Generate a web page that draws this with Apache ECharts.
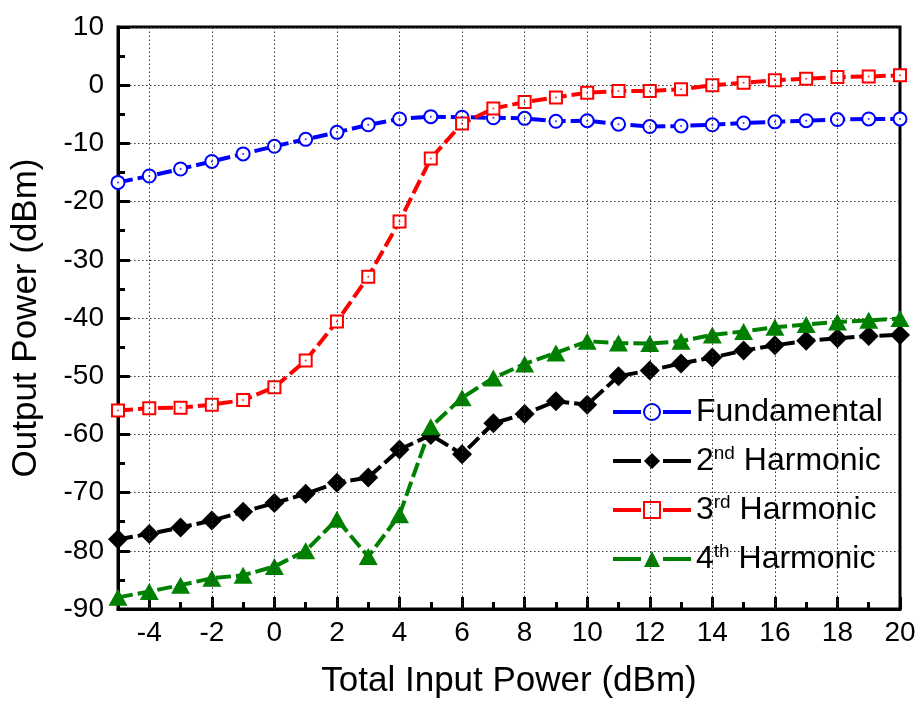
<!DOCTYPE html>
<html>
<head>
<meta charset="utf-8">
<script src="https://cdn.jsdelivr.net/npm/echarts@6/dist/echarts.min.js"></script>
<style>html,body{margin:0;padding:0;background:#fff}#chart{width:920px;height:704px}</style>
</head>
<body>
<div id="chart"></div>
<script>
const inputPower = [-5,-4,-3,-2,-1,0,1,2,3,4,5,6,7,8,9,10,11,12,13,14,15,16,17,18,19,20];
const fundamental = [-16.7,-15.6,-14.4,-13.1,-11.8,-10.5,-9.3,-8.1,-6.8,-5.8,-5.4,-5.5,-5.6,-5.7,-6.2,-6.1,-6.7,-7.1,-7.0,-6.8,-6.5,-6.3,-6.1,-5.9,-5.8,-5.8];
const harmonic2 = [-78.0,-77.1,-76.0,-74.8,-73.3,-71.8,-70.2,-68.3,-67.4,-62.6,-60.1,-63.4,-58.1,-56.5,-54.3,-54.9,-50.0,-49.0,-47.8,-46.8,-45.6,-44.7,-43.9,-43.5,-43.1,-42.9];
const harmonic3 = [-55.9,-55.5,-55.4,-54.9,-54.1,-51.9,-47.3,-40.6,-32.9,-23.4,-12.6,-6.6,-4.0,-2.9,-2.1,-1.3,-1.0,-1.0,-0.7,0.0,0.4,0.85,1.1,1.4,1.5,1.7];
const harmonic4 = [-88.0,-87.0,-85.9,-84.7,-84.2,-82.7,-80.0,-74.6,-81.0,-73.8,-58.7,-53.7,-50.3,-47.9,-46.0,-44.0,-44.3,-44.4,-44.0,-42.9,-42.3,-41.6,-41.1,-40.7,-40.4,-40.1];
const xMajorTicks = [-4,-2,0,2,4,6,8,10,12,14,16,18,20];
const xMinorTicks = [-5,-3,-1,1,3,5,7,9,11,13,15,17,19];
const xGridLines = [-4,-2,0,2,4,6,8,10,12,14,16,18];
const seriesNames = ['Fundamental','2nd Harmonic','3rd Harmonic','4th Harmonic'];
const legendLabels = ['Fundamental','2{sup|nd} Harmonic','3{sup|rd} Harmonic','4{sup|th} Harmonic'];

const FONT = '"Liberation Sans", Arial, sans-serif';
function pairs(ys){ return inputPower.map((x,i)=>[x, ys[i]]); }

const chart = echarts.init(document.getElementById('chart'), null, {renderer:'canvas'});
const dash = [15, 5];
const gridDot = {color:'#333', width:1, type:[1.5,2.5]};
const option = {
  animation: false,
  backgroundColor: '#fff',
  grid: {left:118, right:20, top:27, bottom:94, show:true, borderColor:'#000', borderWidth:3, backgroundColor:'transparent'},
  legend: {
    orient:'vertical', left:606, top:390, itemWidth:78, itemHeight:20, itemGap:15,
    data: seriesNames,
    lineStyle: {width:4, type:[28,22]},
    formatter: function(name){ return legendLabels[seriesNames.indexOf(name)]; },
    textStyle: {fontFamily:FONT, fontSize:32, color:'#000', lineHeight:34,
      rich: {sup: {fontFamily:FONT, fontSize:19, lineHeight:34, verticalAlign:'top', padding:[0,0,14,0]}}}
  },
  xAxis: [{
    type:'value', min:-5, max:20, position:'bottom',
    name:'Total Input Power (dBm)', nameLocation:'middle', nameGap:55,
    nameTextStyle:{fontFamily:FONT, fontSize:35, color:'#000'},
    axisLine:{show:true, onZero:false, lineStyle:{color:'#000', width:3}},
    axisTick:{show:true, inside:true, length:12, customValues:xMajorTicks, lineStyle:{color:'#000', width:3}},
    axisLabel:{show:true, customValues:xMajorTicks, fontFamily:FONT, fontSize:28, color:'#000', margin:10},
    splitLine:{show:false}
  },{
    type:'value', min:-5, max:20, position:'bottom',
    axisLine:{show:false, onZero:false},
    axisTick:{show:true, inside:true, length:7, customValues:xMinorTicks, lineStyle:{color:'#000', width:3}},
    axisLabel:{show:false},
    splitLine:{show:false}
  }],
  yAxis: {
    type:'value', min:-90, max:10, interval:10,
    name:'Output Power (dBm)', nameLocation:'middle', nameGap:74,
    nameTextStyle:{fontFamily:FONT, fontSize:35, color:'#000'},
    axisLine:{show:true, onZero:false, lineStyle:{color:'#000', width:3}},
    axisTick:{show:true, inside:true, length:12, lineStyle:{color:'#000', width:3}},
    minorTick:{show:true, splitNumber:2, length:7, lineStyle:{color:'#000', width:3}},
    axisLabel:{fontFamily:FONT, fontSize:28, color:'#000', margin:14},
    splitLine:{show:true, lineStyle:gridDot}
  },
  series: [
    {name:'xgrid', type:'line', data:[], z:1, silent:true, legendHoverLink:false,
     markLine:{silent:true, symbol:'none', label:{show:false}, animation:false,
       lineStyle:gridDot, emphasis:{disabled:true},
       data: xGridLines.map(v=>({xAxis:v}))}},
    {name:seriesNames[0], type:'line', data:pairs(fundamental), symbol:'emptyCircle', symbolSize:13,
     itemStyle:{color:'#0000ff', borderWidth:1.3}, lineStyle:{color:'#0000ff', width:4, type:dash}},
    {name:seriesNames[1], type:'line', data:pairs(harmonic2), symbol:'diamond', symbolSize:20,
     itemStyle:{color:'#000000'}, lineStyle:{color:'#000000', width:4, type:dash}},
    {name:seriesNames[2], type:'line', data:pairs(harmonic3), symbol:'emptyRect', symbolSize:12,
     itemStyle:{color:'#ff0000', borderWidth:1.3}, lineStyle:{color:'#ff0000', width:4, type:dash}},
    {name:seriesNames[3], type:'line', data:pairs(harmonic4), symbol:'triangle', symbolSize:[19,17],
     itemStyle:{color:'#008000'}, lineStyle:{color:'#008000', width:4, type:dash}},
    {name:'fundDots', type:'scatter', data:pairs(fundamental), symbol:'circle', symbolSize:2, z:5, silent:true,
     itemStyle:{color:'#0000ff'}},
    {name:'h3Dots', type:'scatter', data:pairs(harmonic3), symbol:'circle', symbolSize:2, z:5, silent:true,
     itemStyle:{color:'#ff0000'}}
  ]
};
chart.setOption(option);
</script>
</body>
</html>
